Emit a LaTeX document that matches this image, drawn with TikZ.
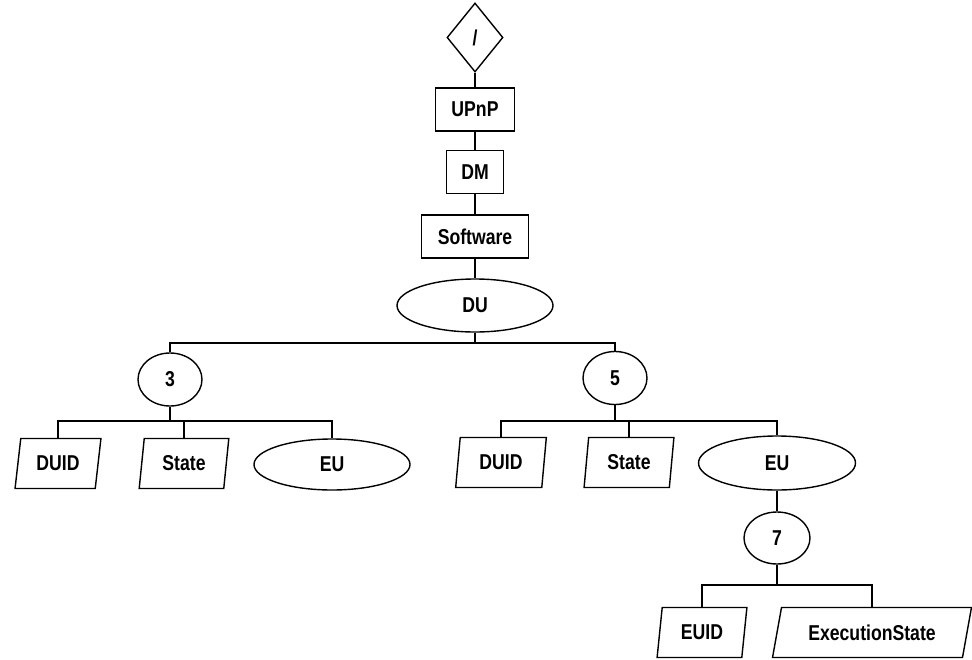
\documentclass[tikz,border=0pt]{standalone}
\usepackage{fontspec}
\setmainfont[FakeStretch=0.82]{Liberation Sans}
\usetikzlibrary{shapes.geometric}
\begin{document}
\begin{tikzpicture}[x=1pt,y=-1pt,
  every node/.style={draw,line width=1.4pt,inner sep=0pt,font=\fontsize{21.5}{23}\selectfont\bfseries},
  line width=1.4pt,
  box/.style={rectangle,minimum width=#1,minimum height=43},
  oval/.style 2 args={ellipse,minimum width=#1,minimum height=#2},
  para/.style 2 args={trapezium,trapezium stretches=true,
    trapezium left angle={atan(50/#2)},trapezium right angle={180-atan(50/#2)},
    minimum width=#1,minimum height=50},
  rhomb/.style={diamond,minimum width=56,minimum height=69}
]
\useasboundingbox (0,0) rectangle (972,659);

% root chain
\node[rhomb] (root) at (475,37.5) {/};
\node[box=79] (upnp) at (475,109.5) {UPnP};
\node[box=57] (dm) at (475,172) {DM};
\node[box=107] (sw) at (475,236.5) {Software};
\node[oval={156}{53}] (du) at (475,305.5) {DU};

% instances of DU
\node[oval={64}{53}] (n3) at (170,379.5) {3};
\node[oval={64}{53}] (n5) at (615,378) {5};

% children of instance 3
\node[para={86}{11}] (duidA) at (58,463.5) {DUID};
\node[para={90}{9}] (stateA) at (184,463.5) {State};
\node[oval={156}{51}] (euA) at (332,464.5) {EU};

% children of instance 5
\node[para={91}{8}] (duidB) at (501,462.5) {DUID};
\node[para={90}{8}] (stateB) at (629,462.5) {State};
\node[oval={157}{54}] (euB) at (777,463) {EU};

% execution unit 7
\node[oval={66}{52}] (n7) at (777,538) {7};
\node[para={90}{9}] (euid) at (702,632.5) {EUID};
\node[para={199}{20}] (exec) at (872,632.5) {ExecutionState};

% bus points
\coordinate (busDU) at (475,343);
\coordinate (bus3) at (170,421);
\coordinate (bus5) at (615,421);
\coordinate (bus7) at (777,585);

% connectors
\draw (root) -- (upnp);
\draw (upnp) -- (dm);
\draw (dm) -- (sw);
\draw (sw) -- (du);
\draw (du) -- (busDU) -| (n3);
\draw (busDU) -| (n5);
\draw (n3) -- (bus3) -| (duidA);
\draw (bus3) -| (stateA);
\draw (bus3) -| (euA);
\draw (n5) -- (bus5) -| (duidB);
\draw (bus5) -| (stateB);
\draw (bus5) -| (euB);
\draw (euB) -- (n7);
\draw (n7) -- (bus7) -| (euid);
\draw (bus7) -| (exec);
\end{tikzpicture}
\end{document}
